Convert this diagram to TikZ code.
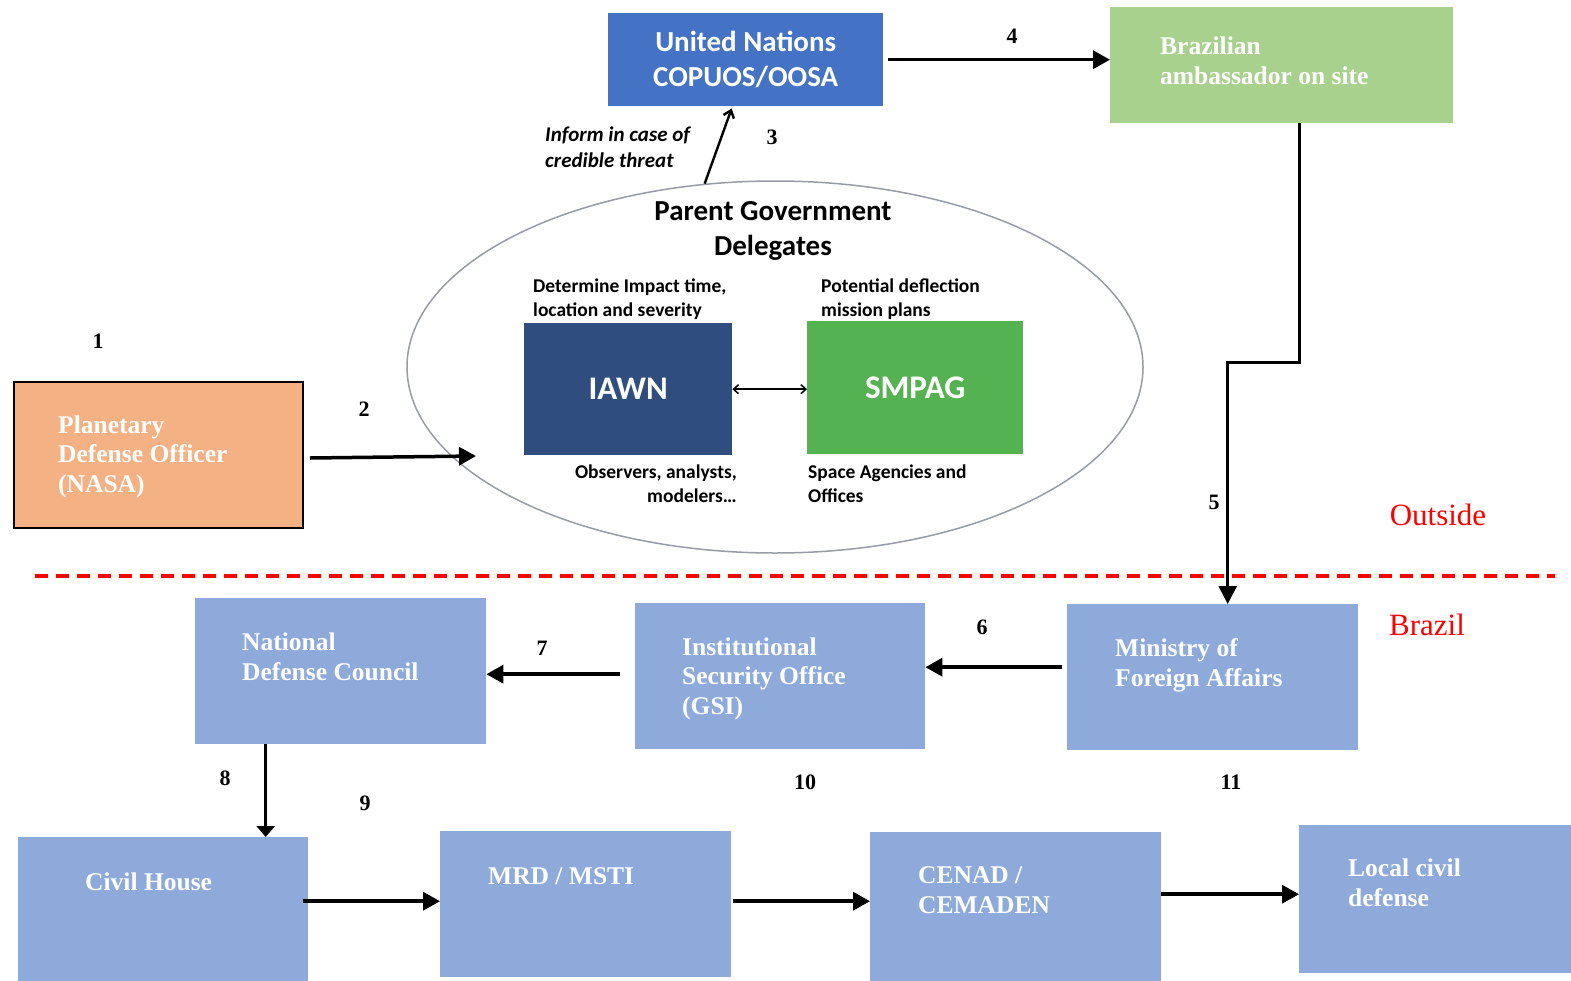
\documentclass[tikz,border=0pt]{standalone}
\usepackage{fontspec}
\setmainfont{Liberation Serif}
\newfontfamily\calib{Carlito}
\usepackage{xcolor}
\usetikzlibrary{shapes,arrows.meta,positioning,calc}

\definecolor{unblue}{RGB}{68,114,196}
\definecolor{ambgreen}{RGB}{169,209,142}
\definecolor{pdoorange}{RGB}{244,177,131}
\definecolor{iawnblue}{RGB}{47,77,126}
\definecolor{smpaggreen}{RGB}{84,178,80}
\definecolor{brblue}{RGB}{142,170,219}
\definecolor{ellgray}{RGB}{150,155,165}

\begin{document}
\begin{tikzpicture}[
    x=1pt, y=-1pt,
    box/.style={rectangle, anchor=north west, inner sep=0, minimum width=291, minimum height=146},
    brbox/.style={box, fill=brblue},
    boxtext/.style={anchor=base west, align=left, inner sep=0, text=white, font=\bfseries\fontsize{25.5}{29.5}\selectfont},
    sanstext/.style={inner sep=0, font=\calib\bfseries\fontsize{19.5}{24}\selectfont},
    num/.style={inner sep=0, font=\bfseries\fontsize{22}{26}\selectfont},
    region/.style={inner sep=0, text=red, font=\fontsize{31}{36}\selectfont},
    bigarrow/.style={-{Triangle[length=17pt,width=18pt]}, line width=3.5pt},
    thinarrow/.style={-{Triangle[length=18pt,width=18pt]}, line width=2.5pt},
    barbarrow/.style={-{Straight Barb[length=7pt,width=11pt]}, line width=2.4pt}
]
    \clip (0,0) rectangle (1571,980);
    \useasboundingbox (0,0) rectangle (1571,980);

    % United Nations
    \node[box, fill=unblue, minimum width=275, minimum height=93, text=white, align=center,
          font=\calib\bfseries\fontsize{29}{35}\selectfont] (un) at (608,13) {United Nations\\COPUOS/OOSA};

    % Brazilian ambassador (text nodes are placed by their last baseline)
    \node[box, fill=ambgreen, minimum width=343, minimum height=116] (amb) at (1110,7) {};
    \node[boxtext] (ambtxt) at (1160,84) {Brazilian\\ambassador on site};

    % Parent Government Delegates
    \node[ellipse, draw=ellgray, line width=1.5pt, minimum width=736, minimum height=372, inner sep=0] (pgd) at (775,367) {};
    \node[sanstext, anchor=base, align=center, font=\calib\bfseries\fontsize{29}{35}\selectfont] (pgdtitle) at (773,255) {Parent Government\\Delegates};
    \node[box, fill=iawnblue, minimum width=208, minimum height=132, text=white,
          font=\calib\bfseries\fontsize{33}{38}\selectfont] (iawn) at (524,323) {IAWN};
    \node[box, fill=smpaggreen, minimum width=216, minimum height=133, text=white,
          font=\calib\bfseries\fontsize{33}{38}\selectfont] (smpag) at (807,321) {SMPAG};
    \node[sanstext, anchor=base west, align=left] (iawntop) at (533,316) {Determine Impact time,\\location and severity};
    \node[sanstext, anchor=base west, align=left] (smpagtop) at (821,316) {Potential deflection\\mission plans};
    \node[sanstext, anchor=base east, align=right] (iawnbot) at (737,502) {Observers, analysts,\\modelers…};
    \node[sanstext, anchor=base west, align=left] (smpagbot) at (808,502) {Space Agencies and\\Offices};
    \draw[{Straight Barb[length=5pt,width=9pt]}-{Straight Barb[length=5pt,width=9pt]}, line width=1.5pt] (iawn.east) -- (iawn.east -| smpag.west);

    % Inform arrow
    \node[sanstext, anchor=base west, align=left, font=\calib\bfseries\itshape\fontsize{21}{26}\selectfont] (inform) at (545,167) {Inform in case of\\credible threat};
    \draw[barbarrow] (pgd.111) -- ([xshift=-14pt,yshift=-2pt]un.south);

    % Planetary Defense Officer
    \node[box, fill=pdoorange, draw=black, line width=2pt, minimum width=289, minimum height=146] (pdo) at (13,381) {};
    \node[boxtext] (pdotxt) at (58,492) {Planetary\\Defense Officer\\(NASA)};
    \coordinate (pgdin) at (476,456);
    \draw[bigarrow] ([xshift=6pt,yshift=-3pt]pdo.east) -- (pgdin);

    % UN to ambassador
    \draw[bigarrow] ([xshift=5pt]un.east) -- (un.east -| amb.west);

    % Boundary
    \draw[red, line width=4pt, dash pattern=on 13pt off 8pt] (35,576) -- (1555,576);
    \node[region] (outside) at (1438,515) {Outside};
    \node[region] (brazil) at (1427,625) {Brazil};

    % Brazil chain
    \node[brbox] (ndc) at (195,598) {};
    \node[boxtext] (ndctxt) at (242,680) {National\\Defense Council};
    \node[brbox, minimum width=290] (gsi) at (635,603) {};
    \node[boxtext] (gsitxt) at (682,714) {Institutional\\Security Office\\(GSI)};
    \node[brbox] (mfa) at (1067,604) {};
    \node[boxtext] (mfatxt) at (1115,686) {Ministry of\\Foreign Affairs};
    \node[brbox, minimum width=290] (ch) at (18,837) {};
    \node[boxtext] (chtxt) at (85,890) {Civil House};
    \node[brbox] (mrd) at (440,831) {};
    \node[boxtext] (mrdtxt) at (488,884) {MRD / MSTI};
    \node[brbox, minimum height=150] (cen) at (870,832) {};
    \node[boxtext] (centxt) at (918,913) {CENAD /\\CEMADEN};
    \node[brbox, minimum height=148] (lcd) at (1299,825) {};
    \node[boxtext] (lcdtxt) at (1348,906) {Local civil\\defense};

    % Connections
    \draw[thinarrow] ([xshift=18pt]amb.south) -- ++(0,239) -| ([xshift=15pt]mfa.north);
    \draw[bigarrow] ([xshift=-5pt,yshift=10pt]mfa.west) -- ([yshift=10pt]mfa.west -| gsi.east);
    \draw[bigarrow] ([xshift=-15pt,yshift=2pt]gsi.west) -- ([yshift=2pt]gsi.west -| ndc.east);
    \draw[-{Triangle[length=11pt,width=18pt]}, line width=3pt] ([xshift=-75pt]ndc.south) -- ([xshift=-75pt]ndc.south |- ch.north);
    \draw[bigarrow] ([xshift=-5pt,yshift=3pt]ch.east |- mrd.west) -- ([yshift=3pt]mrd.west);
    \draw[bigarrow] ([xshift=2pt,yshift=3pt]mrd.east) -- ([yshift=3pt]mrd.east -| cen.west);
    \draw[bigarrow] ([yshift=5pt]cen.east |- lcd.west) -- ([yshift=5pt]lcd.west);

    % Step numbers
    \node[num] (n1) at (98,341) {1};
    \node[num] (n2) at (364,409) {2};
    \node[num] (n3) at (772,137) {3};
    \node[num] (n4) at (1012,36) {4};
    \node[num] (n5) at (1214,502) {5};
    \node[num] (n6) at (982,627) {6};
    \node[num] (n7) at (542,648) {7};
    \node[num] (n8) at (225,778) {8};
    \node[num] (n9) at (365,803) {9};
    \node[num] (n10) at (805,782) {10};
    \node[num] (n11) at (1231,782) {11};
\end{tikzpicture}
\end{document}
